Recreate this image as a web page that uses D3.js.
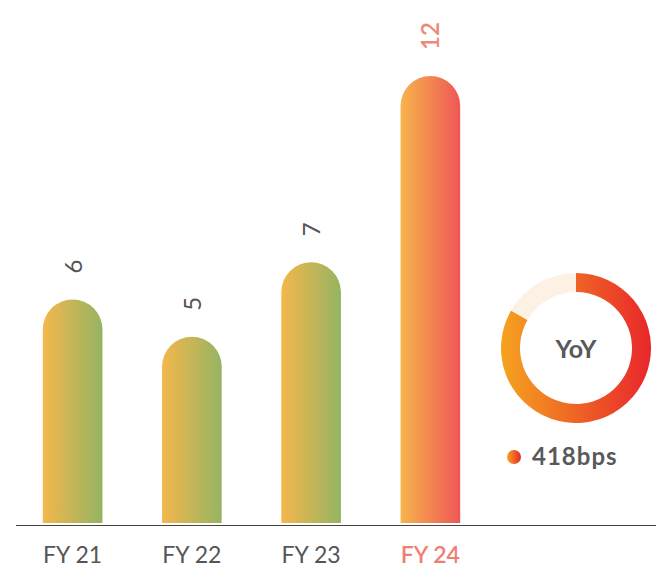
<!DOCTYPE html>
<html>
<head>
<meta charset="utf-8">
<script src="https://cdn.jsdelivr.net/npm/d3@7"></script>
<style>
  body { margin: 0; background: #fff; }
  svg { display: block; font-family: Lato, "Open Sans", sans-serif; }
</style>
</head>
<body>
<svg width="661" height="573"></svg>
<script>
// DATA
const years = ["FY 21", "FY 22", "FY 23", "FY 24"]
const values = [6, 5, 7, 12]
const yoyShare = [300, 60]   // coloured arc, remainder (degrees)
const yoyLabel = "418bps"

// SETUP
const svg = d3.select("svg")
const defs = svg.append("defs")

const addGradient = function (id, from, to) {
  const g = defs.append("linearGradient")
    .attr("id", id)
    .attr("x1", "0%").attr("x2", "100%")
    .attr("y1", "0%").attr("y2", "0%")
  g.append("stop").attr("offset", "0%").attr("stop-color", from)
  g.append("stop").attr("offset", "100%").attr("stop-color", to)
}
addGradient("barGreen", "#f4b74c", "#95b462")
addGradient("barRed", "#f7b44b", "#ee5757")
addGradient("ring", "#f5a31f", "#e8262b")

const baseY = 523

const scaleX = d3.scaleBand()
  .domain(years)
  .range([13, 490])
  .paddingInner(0.5)
  .paddingOuter(0.25)

const scaleY = d3.scaleLinear()
  .domain([0, 12])
  .range([baseY, 76])

const bw = scaleX.bandwidth()
const r = bw / 2

const bars = svg.selectAll("g.bar")
  .data(years)
  .enter()
  .append("g")
  .attr("class", "bar")

bars.append("path")
  .attr("fill", (d, i) => i === 3 ? "url(#barRed)" : "url(#barGreen)")
  .attr("d", (d, i) => {
    const x = scaleX(d)
    const y = scaleY(values[i])
    return `M${x},${baseY} L${x},${y + r} A${r},${r} 0 0 1 ${x + bw},${y + r} L${x + bw},${baseY} Z`
  })

bars.append("text")
  .attr("transform", (d, i) => {
    const cx = scaleX(d) + r + 9
    const y = scaleY(values[i]) - 26
    return `translate(${cx}, ${y}) rotate(-90)`
  })
  .attr("font-size", 24)
  .attr("font-weight", (d, i) => i === 3 ? 600 : 400)
  .attr("fill", (d, i) => i === 3 ? "#ec8a7c" : "#555")
  .text((d, i) => values[i])

// axis line + labels
const axisX = d3.axisBottom(scaleX).tickSize(0).tickPadding(22)
const axisG = svg.append("g")
  .attr("transform", `translate(0, ${baseY + 2})`)
  .call(axisX)
axisG.select(".domain")
  .attr("d", "M16,0.5H656")
  .attr("stroke", "#444")
axisG.selectAll("text")
  .attr("font-family", "Lato, sans-serif")
  .attr("font-size", 23)
  .attr("fill", (d, i) => i === 3 ? "#ee7f74" : "#555")
  .attr("font-weight", (d, i) => i === 3 ? 600 : 400)

// donut
const donut = svg.append("g").attr("transform", "translate(576, 348)")
const pie = d3.pie().sort(null).value(d => d)
const arc = d3.arc().innerRadius(56).outerRadius(75)
donut.selectAll("path")
  .data(pie(yoyShare))
  .enter()
  .append("path")
  .attr("d", arc)
  .attr("fill", (d, i) => i === 0 ? "url(#ring)" : "#fdf1e4")

donut.append("text")
  .attr("text-anchor", "middle")
  .attr("y", 10)
  .attr("font-size", 25)
  .attr("font-weight", 700)
  .attr("fill", "#58595b")
  .text("YoY")

// legend
svg.append("circle")
  .attr("cx", 514).attr("cy", 457).attr("r", 7)
  .attr("fill", "url(#ring)")
svg.append("text")
  .attr("x", 532).attr("y", 465)
  .attr("font-size", 24)
  .attr("font-weight", 700)
  .attr("letter-spacing", 1)
  .attr("fill", "#58595b")
  .text(yoyLabel)
</script>
</body>
</html>
